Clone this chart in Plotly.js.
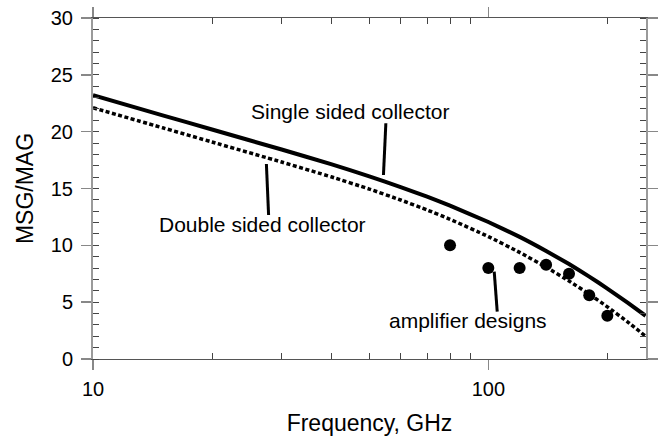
<!DOCTYPE html>
<html>
<head>
<meta charset="utf-8">
<script src="https://cdn.plot.ly/plotly-3.0.1.min.js"></script>
<style>html,body{margin:0;padding:0;background:#fff;}#chart{width:658px;height:436px;}</style>
</head>
<body>
<div id="chart"></div>
<script>
// Frequency grid (GHz)
var freq = [10, 15, 20, 30, 40, 50, 60, 70, 80, 100, 120, 140, 160, 180, 200, 225, 250];
// Single sided collector MSG/MAG
var singleSided = [23.2, 21.44, 20.19, 18.43, 17.14, 16.07, 15.13, 14.28, 13.49, 12.05, 10.74, 9.50, 8.35, 7.25, 6.2, 4.95, 3.8];
// Double sided collector MSG/MAG
var doubleSided = [22.1, 20.34, 19.09, 17.33, 16.03, 14.95, 13.99, 13.11, 12.29, 10.77, 9.38, 8.08, 6.86, 5.70, 4.59, 3.27, 2.0];
// Amplifier designs
var ampFreq = [80, 100, 120, 140, 160, 180, 200];
var ampGain = [10.0, 8.0, 8.0, 8.3, 7.5, 5.6, 3.8];
// Tick labels
var xTickVals = [10, 100];
var xTickText = ['10', '100'];
var yTickVals = [0, 5, 10, 15, 20, 25, 30];
var yTickText = ['0', '5', '10', '15', '20', '25', '30'];
var labels = {
  single: 'Single sided collector',
  double: 'Double sided collector',
  amp: 'amplifier designs',
  xTitle: 'Frequency, GHz',
  yTitle: 'MSG/MAG'
};

var minorX = [];
[10, 100].forEach(function (d) { for (var k = 2; k <= 9; k++) { if (k * d <= 250) minorX.push(k * d); } });

var FONT = 'Liberation Sans, Arial, sans-serif';

var traces = [
  {
    x: freq, y: singleSided, type: 'scatter', mode: 'lines',
    line: { color: '#000', width: 4, shape: 'spline', smoothing: 0.4 },
    hoverinfo: 'skip'
  },
  {
    x: freq, y: doubleSided, type: 'scatter', mode: 'lines',
    line: { color: '#000', width: 3.5, dash: '4px,2.5px', shape: 'spline', smoothing: 0.4 },
    hoverinfo: 'skip'
  },
  {
    x: ampFreq, y: ampGain, type: 'scatter', mode: 'markers',
    marker: { color: '#000', size: 12, symbol: 'circle' },
    hoverinfo: 'skip'
  }
];

var L = 93, R = 645.7, T = 18, B = 359, W = 658, H = 436;
function px(x) { return (x - L) / (R - L); }
function py(y) { return (B - y) / (B - T); }

var layout = {
  width: W, height: H,
  margin: { l: L, r: W - R, t: T, b: H - B, pad: 0 },
  paper_bgcolor: '#fff', plot_bgcolor: '#fff',
  showlegend: false,
  font: { family: FONT, color: '#000', size: 20 },
  xaxis: {
    type: 'log', range: [1, Math.log10(250.5)],
    tickmode: 'array', tickvals: xTickVals, ticktext: xTickText,
    ticks: 'outside', ticklen: 10, tickwidth: 1.5, tickcolor: '#888',
    ticklabelstandoff: 2,
    minor: { tickmode: 'array', tickvals: minorX, ticks: 'inside', ticklen: 6, tickwidth: 1, tickcolor: '#444', showgrid: false },
    showline: true, linecolor: '#555', linewidth: 1, mirror: 'ticks',
    showgrid: false, zeroline: false,
    tickfont: { family: FONT, size: 20, color: '#000' },
    title: { text: labels.xTitle, font: { family: FONT, size: 23, color: '#000' }, standoff: 15 }
  },
  yaxis: {
    range: [0, 30],
    tickmode: 'array', tickvals: yTickVals, ticktext: yTickText,
    ticks: 'outside', ticklen: 10, tickwidth: 1.5, tickcolor: '#888',
    ticklabelstandoff: 4,
    minor: { dtick: 1, ticks: 'inside', ticklen: 6, tickwidth: 1, tickcolor: '#444', showgrid: false },
    showline: true, linecolor: '#9a9a9a', linewidth: 2, mirror: 'ticks',
    showgrid: false, zeroline: false,
    tickfont: { family: FONT, size: 20, color: '#000' },
    title: { text: labels.yTitle, font: { family: FONT, size: 23, color: '#000' }, standoff: 11 }
  },
  annotations: [
    { text: labels.single, xref: 'paper', yref: 'paper', x: px(350), y: py(111), xanchor: 'center', yanchor: 'middle', showarrow: false, font: { family: FONT, size: 21, color: '#000' } },
    { text: labels.double, xref: 'paper', yref: 'paper', x: px(262.5), y: py(224.5), xanchor: 'center', yanchor: 'middle', showarrow: false, font: { family: FONT, size: 21, color: '#000' } },
    { text: labels.amp, xref: 'paper', yref: 'paper', x: px(467.5), y: py(320.5), xanchor: 'center', yanchor: 'middle', showarrow: false, font: { family: FONT, size: 21, color: '#000' } }
  ],
  shapes: [
    { type: 'line', xref: 'paper', yref: 'paper', x0: px(385.7), y0: py(123.3), x1: px(383.3), y1: py(175), line: { color: '#000', width: 3 } },
    { type: 'line', xref: 'paper', yref: 'paper', x0: px(266.3), y0: py(164), x1: px(268.5), y1: py(215), line: { color: '#000', width: 3 } },
    { type: 'line', xref: 'paper', yref: 'paper', x0: px(494), y0: py(271.7), x1: px(497), y1: py(311.7), line: { color: '#000', width: 3 } }
  ]
};

Plotly.newPlot('chart', traces, layout, { staticPlot: true, displayModeBar: false });
</script>
</body>
</html>
